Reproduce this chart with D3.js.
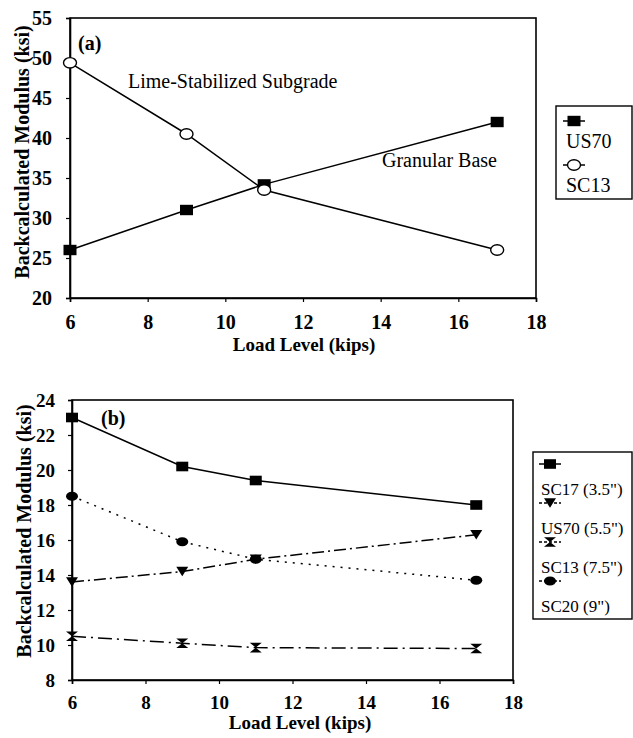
<!DOCTYPE html>
<html>
<head>
<meta charset="utf-8">
<script src="https://cdn.jsdelivr.net/npm/d3@7"></script>
</head>
<body style="margin:0;background:#fff">
<div id="chart"></div>
<script>
var FONT = 'Liberation Serif';

// load levels shared by both panels
var loadLevels = [6, 9, 11, 17];

// panel (a)
var us70A = [26, 31, 34.2, 42];
var sc13A = [49.4, 40.5, 33.5, 26];
var xTicks = [6, 8, 10, 12, 14, 16, 18];
var yTicksA = [20, 25, 30, 35, 40, 45, 50, 55];

// panel (b)
var sc17B = [23.0, 20.2, 19.4, 18.0];
var us70B = [13.6, 14.2, 14.9, 16.3];
var sc13B = [10.5, 10.1, 9.85, 9.8];
var sc20B = [18.5, 15.9, 14.9, 13.7];
var yTicksB = [8, 10, 12, 14, 16, 18, 20, 22, 24];

var svg = d3.select('#chart').append('svg')
    .attr('width', 633)
    .attr('height', 738)
    .attr('font-family', FONT);

//
// marker shapes, drawn centred on 0,0
//
function drawMarker(g, shape, size) {
  var w = size, h = size * 0.8;
  if (shape === 'square') {
    g.append('rect').attr('x', -w / 2).attr('y', -h / 2).attr('width', w).attr('height', h)
      .attr('fill', '#000');
  } else if (shape === 'openCircle') {
    g.append('ellipse').attr('rx', w / 2).attr('ry', h / 2)
      .attr('fill', '#fff').attr('stroke', '#000').attr('stroke-width', 1.4);
  } else if (shape === 'circle') {
    g.append('ellipse').attr('rx', w / 2).attr('ry', h / 2.1).attr('fill', '#000');
  } else if (shape === 'triangle') {
    g.append('path').attr('d', 'M' + (-w / 2) + ',' + (-h / 2) + 'L' + (w / 2) + ',' + (-h / 2) + 'L0,' + (h / 2) + 'Z')
      .attr('fill', '#000');
  } else if (shape === 'bowtie') {
    g.append('path').attr('d', 'M' + (-w / 2) + ',' + (-h / 2) + 'L' + (w / 2) + ',' + (-h / 2) +
        'L' + (-w / 2) + ',' + (h / 2) + 'L' + (w / 2) + ',' + (h / 2) + 'Z')
      .attr('fill', '#000');
  }
}

function drawPanel(opts) {
  var x = d3.scaleLinear().domain([6, 18]).range(opts.xRange);
  var y = d3.scaleLinear().domain(opts.yDomain).range(opts.yRange);
  var g = svg.append('g');

  // frame
  g.append('rect')
    .attr('x', opts.xRange[0]).attr('y', opts.yRange[1])
    .attr('width', opts.xRange[1] - opts.xRange[0])
    .attr('height', opts.yRange[0] - opts.yRange[1])
    .attr('fill', 'none').attr('stroke', '#000').attr('stroke-width', 1.6);

  g.append('g')
    .attr('transform', 'translate(0,' + opts.yRange[0] + ')')
    .call(d3.axisBottom(x).tickValues(xTicks).tickSize(4).tickPadding(opts.xPad).tickFormat(d3.format('d')));
  g.append('g')
    .attr('transform', 'translate(' + opts.xRange[0] + ',0)')
    .call(d3.axisLeft(y).tickValues(opts.yTicks).tickSize(4).tickPadding(opts.yPad).tickFormat(d3.format('d')));

  g.selectAll('.domain').attr('stroke', '#000').attr('stroke-width', 1.6);
  g.selectAll('.tick line').attr('stroke', '#000').attr('stroke-width', 1.2);
  g.selectAll('.tick text')
    .attr('fill', '#000')
    .attr('font-family', FONT)
    .attr('font-weight', 'bold')
    .attr('font-size', opts.tickFont);

  // axis titles
  g.append('text')
    .attr('x', opts.xTitle[0]).attr('y', opts.xTitle[1])
    .attr('text-anchor', 'middle')
    .attr('font-family', FONT).attr('font-weight', 'bold').attr('font-size', 19)
    .text('Load Level (kips)');
  g.append('text')
    .attr('transform', 'translate(' + opts.yTitle[0] + ',' + opts.yTitle[1] + ') rotate(-90)')
    .attr('text-anchor', 'middle')
    .attr('font-family', FONT).attr('font-weight', 'bold').attr('font-size', 20)
    .text('Backcalculated Modulus (ksi)');

  // panel label
  g.append('text')
    .attr('x', opts.tag[0]).attr('y', opts.tag[1])
    .attr('font-family', FONT).attr('font-weight', 'bold').attr('font-size', 20)
    .text(opts.tag[2]);

  // lines + markers
  var line = d3.line()
    .x(function (d, i) { return x(loadLevels[i]); })
    .y(function (d) { return y(d); });

  opts.series.forEach(function (s) {
    g.append('path')
      .datum(s.values)
      .attr('d', line)
      .attr('fill', 'none')
      .attr('stroke', '#000')
      .attr('stroke-width', 1.5)
      .attr('stroke-dasharray', s.dash || null);
  });
  opts.series.forEach(function (s) {
    s.values.forEach(function (v, i) {
      var m = g.append('g').attr('transform', 'translate(' + x(loadLevels[i]) + ',' + y(v) + ')');
      drawMarker(m, s.shape, opts.markerSize);
    });
  });

  // legend
  var lg = opts.legend;
  g.append('rect')
    .attr('x', lg.x).attr('y', lg.y).attr('width', lg.w).attr('height', lg.h)
    .attr('fill', '#fff').attr('stroke', '#000').attr('stroke-width', 1.4);
  opts.series.forEach(function (s, i) {
    var my = lg.y + lg.first + i * lg.step;
    g.append('line')
      .attr('x1', lg.mx - 11).attr('x2', lg.mx + 11)
      .attr('y1', my).attr('y2', my)
      .attr('stroke', '#000').attr('stroke-width', 1.5)
      .attr('stroke-dasharray', s.dash ? '3,2' : null);
    var m = g.append('g').attr('transform', 'translate(' + lg.mx + ',' + my + ')');
    drawMarker(m, s.shape, opts.markerSize);
    g.append('text')
      .attr('x', lg.tx).attr('y', my + lg.textOff)
      .attr('font-family', FONT).attr('font-size', lg.font)
      .text(s.name);
  });

  return { x: x, y: y, g: g };
}

var a = drawPanel({
  xRange: [70, 536], yRange: [298, 18], yDomain: [20, 55], yTicks: yTicksA,
  xPad: 13, yPad: 14, tickFont: 20, markerSize: 13,
  xTitle: [304, 351], yTitle: [29, 152], tag: [78, 50, '(a)'],
  series: [
    { name: 'US70', values: us70A, shape: 'square' },
    { name: 'SC13', values: sc13A, shape: 'openCircle' }
  ],
  legend: { x: 556, y: 106, w: 76, h: 93, first: 15, step: 44, mx: 574, tx: 566, textOff: 27, font: 20 }
});

a.g.append('text')
  .attr('x', 128).attr('y', 88)
  .attr('font-family', FONT).attr('font-size', 20)
  .text('Lime-Stabilized Subgrade');
a.g.append('text')
  .attr('x', 382).attr('y', 167)
  .attr('font-family', FONT).attr('font-size', 20)
  .text('Granular Base');

drawPanel({
  xRange: [72, 513], yRange: [680, 400], yDomain: [8, 24], yTicks: yTicksB,
  xPad: 12, yPad: 13, tickFont: 19, markerSize: 12,
  xTitle: [300, 729], yTitle: [31, 531], tag: [101, 425, '(b)'],
  series: [
    { name: 'SC17 (3.5")', values: sc17B, shape: 'square' },
    { name: 'US70 (5.5")', values: us70B, shape: 'triangle', dash: '12,4,2,4' },
    { name: 'SC13 (7.5")', values: sc13B, shape: 'bowtie', dash: '14,5,2,5' },
    { name: 'SC20 (9")', values: sc20B, shape: 'circle', dash: '2,6' }
  ],
  legend: { x: 533, y: 452, w: 99, h: 167, first: 12, step: 39, mx: 550, tx: 541, textOff: 31, font: 17 }
});
</script>
</body>
</html>
